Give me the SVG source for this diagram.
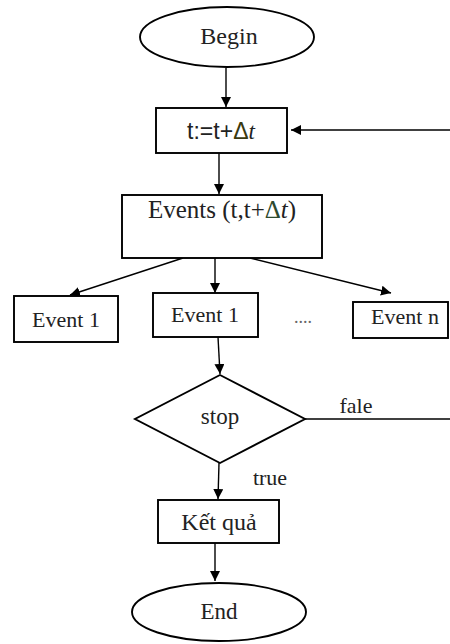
<svg xmlns="http://www.w3.org/2000/svg" width="450" height="644" viewBox="0 0 450 644">
<style>
.s{fill:#fff;stroke:#000;stroke-width:1.9}
.t{font-family:"Liberation Serif","Times New Roman",serif;font-size:23px;fill:#222;text-anchor:middle}
.c{stroke:#000;stroke-width:1.4;fill:none}
</style>
<defs>
<marker id="ah" viewBox="0 0 10 10" refX="10" refY="5" markerWidth="10" markerHeight="10" markerUnits="userSpaceOnUse" orient="auto">
<path d="M0,0 L10,5 L0,10 z" fill="#000"/>
</marker>
</defs>
<rect width="450" height="644" fill="#fff"/>
<g id="connectors">
<line class="c" x1="226" y1="68" x2="226" y2="107" marker-end="url(#ah)"/>
<line class="c" x1="450" y1="130" x2="291" y2="130" marker-end="url(#ah)"/>
<line class="c" x1="219" y1="153" x2="219" y2="194" marker-end="url(#ah)"/>
<line class="c" x1="183" y1="258" x2="70" y2="295" marker-end="url(#ah)"/>
<line class="c" x1="215" y1="258" x2="215" y2="293" marker-end="url(#ah)"/>
<line class="c" x1="250" y1="258" x2="391" y2="293" marker-end="url(#ah)"/>
<line class="c" x1="218" y1="337" x2="220" y2="374" marker-end="url(#ah)"/>
<line class="c" x1="305" y1="419" x2="450" y2="419"/>
<line class="c" x1="219" y1="463" x2="218" y2="499" marker-end="url(#ah)"/>
<line class="c" x1="215" y1="543" x2="215" y2="581" marker-end="url(#ah)"/>
<text class="t" x="356" y="413" style="font-size:22px">fale</text>
<text class="t" x="270" y="485" style="font-size:22px">true</text>
</g>
<g id="begin">
<ellipse class="s" cx="227" cy="37" rx="87" ry="30"/>
<text class="t" x="229" y="44" style="font-size:24px">Begin</text>
</g>
<g id="update">
<rect class="s" x="156" y="108" width="131" height="45"/>
<text x="221" y="139" style="font-family:'Liberation Sans',Arial,sans-serif;font-size:23px;fill:#222;text-anchor:middle">t:=t+<tspan fill="#3a3a10">Δ</tspan><tspan font-style="italic" font-family="'Liberation Serif',serif">t</tspan></text>
</g>
<g id="events">
<rect class="s" x="122" y="195" width="200" height="63"/>
<text class="t" x="222" y="218" style="font-size:25px">Events (t,t+<tspan fill="#2e4a2e">Δ</tspan><tspan font-style="italic">t</tspan>)</text>
</g>
<g id="event1a">
<rect class="s" x="14" y="296" width="104" height="46"/>
<text class="t" x="66" y="327" style="font-size:22px">Event 1</text>
</g>
<g id="event1b">
<rect class="s" x="153" y="293" width="105" height="44"/>
<text class="t" x="205" y="322" style="font-size:22px">Event 1</text>
</g>
<text x="303" y="323" style="font-family:'Liberation Serif',serif;font-size:18px;fill:#666;text-anchor:middle">....</text>
<g id="eventn">
<rect class="s" x="353" y="302" width="95" height="36"/>
<text class="t" x="405" y="324" style="font-size:22px">Event n</text>
</g>
<g id="stop">
<polygon class="s" points="220,375 305,419 220,463 135,419"/>
<text class="t" x="220" y="424">stop</text>
</g>
<g id="result">
<rect class="s" x="158" y="500" width="121" height="43"/>
<text class="t" x="219" y="530" style="font-size:24px">Kết quả</text>
</g>
<g id="end">
<ellipse class="s" cx="219" cy="612" rx="87" ry="29"/>
<text class="t" x="219" y="619">End</text>
</g>
</svg>
